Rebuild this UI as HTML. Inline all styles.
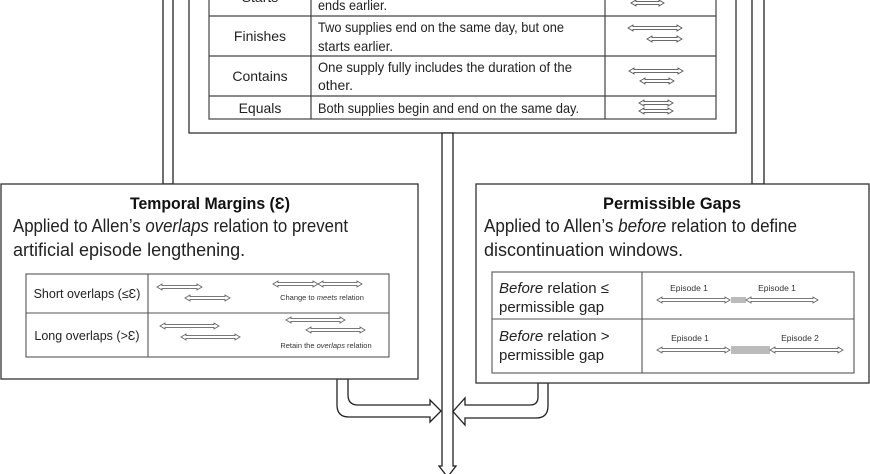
<!DOCTYPE html>
<html><head><meta charset="utf-8"><style>
html,body{margin:0;padding:0;background:#fff;width:870px;height:474px;overflow:hidden}
svg{display:block;font-family:"Liberation Sans",sans-serif}
</style></head><body>
<svg width="870" height="474" viewBox="0 0 870 474" xmlns="http://www.w3.org/2000/svg">
<rect x="163" y="-2" width="10" height="186" fill="#fff" stroke="#222" stroke-width="1.3"/>
<rect x="752" y="-2" width="12" height="186" fill="#fff" stroke="#222" stroke-width="1.3"/>
<rect x="189" y="-5" width="547" height="138" fill="#fff" stroke="#333" stroke-width="1.3"/>
<g stroke="#444" stroke-width="1.2" fill="none">
<rect x="209" y="-30" width="507" height="149"/>
<line x1="209" y1="16" x2="716" y2="16"/><line x1="209" y1="56" x2="716" y2="56"/><line x1="209" y1="96" x2="716" y2="96"/>
<line x1="311" y1="-30" x2="311" y2="119"/><line x1="605" y1="-30" x2="605" y2="119"/>
</g>
<g font-size="14" fill="#222">
<text x="260" y="2" text-anchor="middle">Starts</text>
<text x="318" y="10" textLength="69" lengthAdjust="spacingAndGlyphs">ends earlier.</text>
<text x="260" y="41" text-anchor="middle">Finishes</text>
<text x="318" y="32" textLength="246" lengthAdjust="spacingAndGlyphs">Two supplies end on the same day, but one</text>
<text x="318" y="51" textLength="75" lengthAdjust="spacingAndGlyphs">starts earlier.</text>
<text x="260" y="81" text-anchor="middle">Contains</text>
<text x="318" y="72" textLength="254" lengthAdjust="spacingAndGlyphs">One supply fully includes the duration of the</text>
<text x="318" y="90">other.</text>
<text x="260" y="113" text-anchor="middle">Equals</text>
<text x="318" y="113" textLength="261" lengthAdjust="spacingAndGlyphs">Both supplies begin and end on the same day.</text>
</g>
<g fill="#fff" stroke="#555" stroke-width="0.9">
<polygon points="631,3 636,0 636,1.6 659,1.6 659,0 664,3 659,6 659,4.4 636,4.4 636,6"/>
<polygon points="628,28 633,25 633,26.6 677,26.6 677,25 682,28 677,31 677,29.4 633,29.4 633,31"/>
<polygon points="647,39 652,36 652,37.6 677,37.6 677,36 682,39 677,42 677,40.4 652,40.4 652,42"/>
<polygon points="629,71 634,68 634,69.6 678,69.6 678,68 683,71 678,74 678,72.4 634,72.4 634,74"/>
<polygon points="640,81 645,78 645,79.6 669,79.6 669,78 674,81 669,84 669,82.4 645,82.4 645,84"/>
<polygon points="639,103 644,100 644,101.6 668,101.6 668,100 673,103 668,106 668,104.4 644,104.4 644,106"/>
<polygon points="639,111 644,108 644,109.6 668,109.6 668,108 673,111 668,114 668,112.4 644,112.4 644,114"/>
</g>
<polygon points="442,133 453,133 453,466 456,466 447.5,477 439,466 442,466" fill="#fff" stroke="#222" stroke-width="1.3"/>
<path d="M337,379 V405 Q337,417 349,417 H430 V422 L441,411 L430,400 V405 H358 Q348,405 348,395 V379 Z" fill="#fff" stroke="#222" stroke-width="1.3"/>
<path d="M548,383 V406 Q548,418 536,418 H465 V425 L453,411.5 L465,398 V405 H530 Q538,405 538,397 V383 Z" fill="#fff" stroke="#222" stroke-width="1.3"/>
<rect x="1" y="184" width="417" height="195" fill="#fff" stroke="#333" stroke-width="1.3"/>
<text x="210" y="209" font-size="17" font-weight="bold" text-anchor="middle" fill="#111" textLength="160" lengthAdjust="spacingAndGlyphs">Temporal Margins (Ɛ)</text>
<g font-size="18" fill="#222">
<text x="13" y="232" textLength="335" lengthAdjust="spacingAndGlyphs">Applied to Allen’s <tspan font-style="italic">overlaps</tspan> relation to prevent</text>
<text x="13" y="256">artificial episode lengthening.</text>
</g>
<g stroke="#555" stroke-width="1.1" fill="none">
<rect x="26" y="274" width="363" height="83"/>
<line x1="26" y1="313" x2="389" y2="313"/><line x1="148" y1="274" x2="148" y2="357"/>
</g>
<g font-size="12.5" fill="#222" text-anchor="middle">
<text x="87" y="298">Short overlaps (≤Ɛ)</text>
<text x="87" y="340">Long overlaps (&gt;Ɛ)</text>
</g>
<g font-size="7.5" fill="#333" text-anchor="middle">
<text x="322" y="300">Change to <tspan font-style="italic">meets</tspan> relation</text>
<text x="326" y="348">Retain the <tspan font-style="italic">overlaps</tspan> relation</text>
</g>
<g fill="#fff" stroke="#666" stroke-width="0.9">
<polygon points="157,287 162,284 162,285.6 197,285.6 197,284 202,287 197,290 197,288.4 162,288.4 162,290"/>
<polygon points="185,298 190,295 190,296.6 225,296.6 225,295 230,298 225,301 225,299.4 190,299.4 190,301"/>
<polygon points="273,284 278,281 278,282.6 313,282.6 313,281 318,284 313,287 313,285.4 278,285.4 278,287"/>
<polygon points="318,284 323,281 323,282.6 357,282.6 357,281 362,284 357,287 357,285.4 323,285.4 323,287"/>
<polygon points="160,326 165,323 165,324.6 214,324.6 214,323 219,326 214,329 214,327.4 165,327.4 165,329"/>
<polygon points="181,337 186,334 186,335.6 235,335.6 235,334 240,337 235,340 235,338.4 186,338.4 186,340"/>
<polygon points="286,320 291,317 291,318.6 340,318.6 340,317 345,320 340,323 340,321.4 291,321.4 291,323"/>
<polygon points="306,330 311,327 311,328.6 360,328.6 360,327 365,330 360,333 360,331.4 311,331.4 311,333"/>
</g>
<rect x="476" y="184" width="393" height="199" fill="#fff" stroke="#333" stroke-width="1.3"/>
<text x="672" y="209" font-size="17" font-weight="bold" text-anchor="middle" fill="#111" textLength="138" lengthAdjust="spacingAndGlyphs">Permissible Gaps</text>
<g font-size="18" fill="#222">
<text x="484" y="232" textLength="313" lengthAdjust="spacingAndGlyphs">Applied to Allen’s <tspan font-style="italic">before</tspan> relation to define</text>
<text x="484" y="256">discontinuation windows.</text>
</g>
<g stroke="#555" stroke-width="1.1" fill="none">
<rect x="492" y="272" width="362" height="101"/>
<line x1="492" y1="319" x2="854" y2="319"/><line x1="642" y1="272" x2="642" y2="373"/>
</g>
<g font-size="15" fill="#222">
<text x="499" y="293"><tspan font-style="italic">Before</tspan> relation ≤</text>
<text x="499" y="312">permissible gap</text>
<text x="499" y="341"><tspan font-style="italic">Before</tspan> relation &gt;</text>
<text x="499" y="360">permissible gap</text>
</g>
<g font-size="8.5" fill="#333" text-anchor="middle">
<text x="689" y="291">Episode 1</text>
<text x="777" y="291">Episode 1</text>
<text x="690" y="341">Episode 1</text>
<text x="800" y="341">Episode 2</text>
</g>
<rect x="731" y="297" width="15" height="6" fill="#bbb"/>
<rect x="731" y="346" width="39" height="8" fill="#bbb"/>
<g fill="#fff" stroke="#666" stroke-width="0.9">
<polygon points="657,300 662,297 662,298.6 725,298.6 725,297 730,300 725,303 725,301.4 662,301.4 662,303"/>
<polygon points="746,300 751,297 751,298.6 813,298.6 813,297 818,300 813,303 813,301.4 751,301.4 751,303"/>
<polygon points="657,350 662,347 662,348.6 725,348.6 725,347 730,350 725,353 725,351.4 662,351.4 662,353"/>
<polygon points="770,350 775,347 775,348.6 838,348.6 838,347 843,350 838,353 838,351.4 775,351.4 775,353"/>
</g>
</svg>
</body></html>
